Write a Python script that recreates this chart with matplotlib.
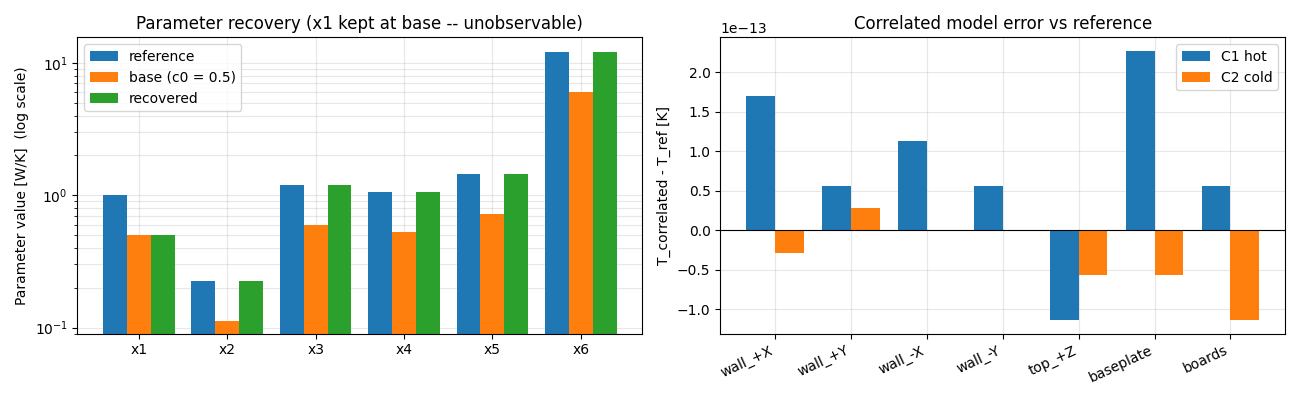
import numpy as np
import matplotlib
matplotlib.use("Agg")
import matplotlib.pyplot as plt

# left panel: parameter recovery
params = ["x1", "x2", "x3", "x4", "x5", "x6"]
ref_vals = [1.0, 0.226, 1.2, 1.05, 1.45, 12.0]
base_vals = [0.5, 0.113, 0.6, 0.525, 0.72, 6.0]
rec_vals = [0.5, 0.226, 1.2, 1.05, 1.45, 12.0]

# right panel: model error (units of 1e-13 K, float round-off)
nodes = ["wall_+X", "wall_+Y", "wall_-X", "wall_-Y", "top_+Z", "baseplate", "boards"]
c1_hot = [1.705e-13, 0.568e-13, 1.137e-13, 0.568e-13, -1.137e-13, 2.274e-13, 0.568e-13]
c2_cold = [-0.284e-13, 0.284e-13, 0.0, 0.0, -0.568e-13, -0.568e-13, -1.137e-13]

fig, (ax1, ax2) = plt.subplots(1, 2, figsize=(13, 4))

x = np.arange(len(params)); w = 0.27
ax1.bar(x - w, ref_vals, w, label="reference")
ax1.bar(x, base_vals, w, label="base (c0 = 0.5)")
ax1.bar(x + w, rec_vals, w, label="recovered")
ax1.set_yscale("log")
ax1.set_ylim(0.09, 15.6)
ax1.set_xticks(x); ax1.set_xticklabels(params)
ax1.set_ylabel("Parameter value [W/K]  (log scale)")
ax1.set_title("Parameter recovery (x1 kept at base -- unobservable)")
ax1.grid(True, which="both", alpha=0.3)
ax1.set_axisbelow(True)
ax1.legend(loc="upper left")

x2 = np.arange(len(nodes)); w2 = 0.38
ax2.bar(x2 - w2 / 2, c1_hot, w2, label="C1 hot")
ax2.bar(x2 + w2 / 2, c2_cold, w2, label="C2 cold")
ax2.axhline(0, color="k", lw=0.8)
ax2.set_xticks(x2); ax2.set_xticklabels(nodes, rotation=25, ha="right")
ax2.set_ylabel("T_correlated - T_ref [K]")
ax2.set_title("Correlated model error vs reference")
ax2.grid(True, alpha=0.3)
ax2.set_axisbelow(True)
ax2.legend(loc="upper right")

plt.tight_layout()
plt.savefig("out.png", dpi=100)
plt.close()
